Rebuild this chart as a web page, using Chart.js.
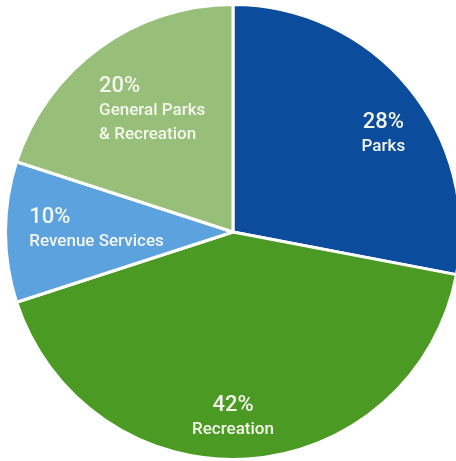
<!DOCTYPE html>
<html lang="en">
<head>
  <meta charset="UTF-8" />
  <title>Budget split</title>
  <script src="https://cdn.jsdelivr.net/npm/chart.js"></script>
  <style>
    html, body { margin: 0; padding: 0; background: #fff; overflow: hidden; }
    #wrap { position: absolute; left: 0; top: -1px; width: 466px; height: 466px; }
  </style>
</head>
<body>
  <div id="wrap"><canvas id="pie"></canvas></div>

  <script>
    const categories = ["Parks", "Recreation", "Revenue Services", "General Parks\n& Recreation"];
    const shares = [28, 42, 10, 20];
    const percentLabels = ["28%", "42%", "10%", "20%"];

    const colors = ["#0b4c9c", "#4a9a24", "#5ba2de", "#97bf7a"];
    // label placement: extra angle (deg) from slice middle, radius fraction, text alignment
    const labelAngle = [6.4, 3.6, 1.3, 2.6];
    const labelRadius = [0.79, 0.81, 0.60, 0.645];
    const labelAlign = ["center", "center", "left", "left"];

    const sliceLabels = {
      id: "sliceLabels",
      afterDatasetsDraw(chart) {
        const ctx = chart.ctx;
        const arcs = chart.getDatasetMeta(0).data;
        ctx.save();
        ctx.fillStyle = "#f4f6ec";
        ctx.textBaseline = "middle";
        arcs.forEach((arc, i) => {
          const p = arc.getProps(["x", "y", "startAngle", "endAngle", "outerRadius"], true);
          const a = (p.startAngle + p.endAngle) / 2 + labelAngle[i] * Math.PI / 180;
          const r = p.outerRadius * labelRadius[i];
          const cx = p.x + Math.cos(a) * r;
          const cy = p.y + Math.sin(a) * r;
          const lines = [percentLabels[i]].concat(categories[i].split("\n"));
          const fonts = lines.map((t, k) => k === 0 ? "500 22px Roboto" : "500 17px Roboto");
          let maxW = 0;
          lines.forEach((t, k) => { ctx.font = fonts[k]; maxW = Math.max(maxW, ctx.measureText(t).width); });
          const step = 24;
          const top = cy - (lines.length - 1) * step / 2 + 1;
          lines.forEach((t, k) => {
            ctx.font = fonts[k];
            if (labelAlign[i] === "left") {
              ctx.textAlign = "left";
              ctx.fillText(t, cx - maxW / 2, top + k * step);
            } else {
              ctx.textAlign = "center";
              ctx.fillText(t, cx, top + k * step);
            }
          });
        });
        ctx.restore();
      }
    };

    new Chart(document.getElementById("pie"), {
      type: "pie",
      data: {
        labels: categories,
        datasets: [{
          data: shares,
          backgroundColor: colors,
          borderColor: "#ffffff",
          borderWidth: 3
        }]
      },
      options: {
        responsive: true,
        maintainAspectRatio: false,
        animation: false,
        layout: { padding: 4 },
        plugins: {
          legend: { display: false },
          tooltip: { enabled: false }
        }
      },
      plugins: [sliceLabels]
    });
  </script>
</body>
</html>
